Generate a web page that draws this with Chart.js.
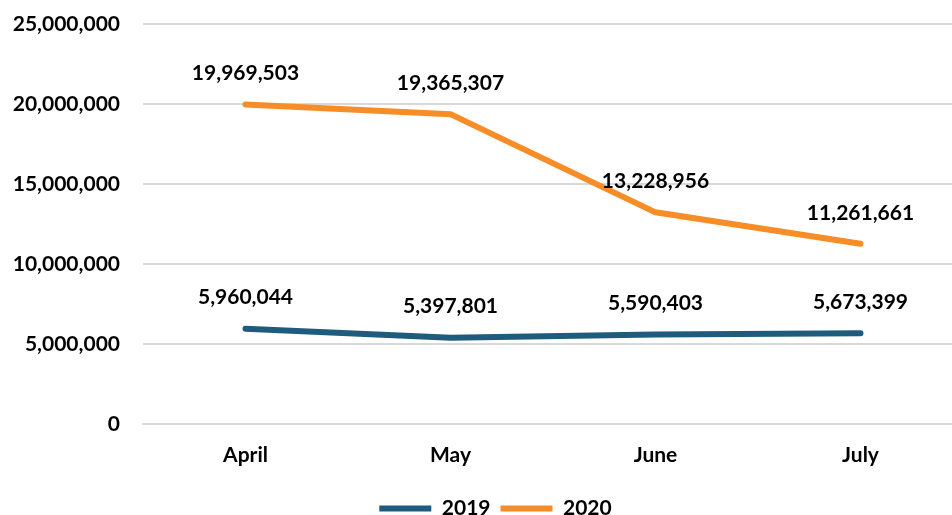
<!DOCTYPE html>
<html>
<head>
<meta charset="utf-8">
<script src="https://cdn.jsdelivr.net/npm/chart.js@4/dist/chart.umd.min.js"></script>
<style>
  html, body { margin: 0; padding: 0; background: #fff; overflow: hidden; }
  #wrap { width: 990px; height: 515px; }
</style>
</head>
<body>
<div id="wrap"><canvas id="chart"></canvas></div>
<script>
const months = ['April', 'May', 'June', 'July'];
const visits2019 = [5960044, 5397801, 5590403, 5673399];
const visits2020 = [19969503, 19365307, 13228956, 11261661];
const yTicks = [0, 5000000, 10000000, 15000000, 20000000, 25000000];

const FONT = 'Lato, "Open Sans", sans-serif';
const fmt = v => v.toLocaleString('en-US');

// value labels above each point
const pointLabels = {
  id: 'pointLabels',
  afterDatasetsDraw(chart) {
    const ctx = chart.ctx;
    ctx.save();
    ctx.font = 'bold 21px ' + FONT;
    ctx.fillStyle = '#000';
    ctx.textAlign = 'center';
    ctx.textBaseline = 'middle';
    chart.data.datasets.forEach((ds, i) => {
      chart.getDatasetMeta(i).data.forEach((pt, j) => {
        ctx.fillText(fmt(ds.data[j]), pt.x, pt.y - 31);
      });
    });
    ctx.restore();
  }
};

// nudge the legend a little to the right of the canvas centre
const legendShift = {
  id: 'legendShift',
  afterLayout(chart) {
    chart.legend.left += 8;
    chart.legend.right += 8;
  }
};

new Chart(document.getElementById('chart'), {
  type: 'line',
  data: {
    labels: months,
    datasets: [
      {
        label: '2019',
        data: visits2019,
        borderColor: '#1F5B7C',
        backgroundColor: '#1F5B7C',
        borderWidth: 6,
        borderCapStyle: 'round',
        borderJoinStyle: 'round',
        pointRadius: 0,
        tension: 0
      },
      {
        label: '2020',
        data: visits2020,
        borderColor: '#F78D27',
        backgroundColor: '#F78D27',
        borderWidth: 6,
        borderCapStyle: 'round',
        borderJoinStyle: 'round',
        pointRadius: 0,
        tension: 0
      }
    ]
  },
  options: {
    responsive: true,
    maintainAspectRatio: false,
    animation: false,
    layout: { padding: { top: 24, left: 12, right: 27, bottom: -14 } },
    plugins: {
      tooltip: { enabled: false },
      legend: {
        position: 'bottom',
        labels: {
          usePointStyle: true,
          pointStyle: 'line',
          pointStyleWidth: 52,
          padding: 10,
          color: '#000',
          font: { family: FONT, size: 21, weight: 'bold' }
        }
      }
    },
    scales: {
      x: {
        offset: true,
        afterFit(s) { s.height = 64; },
        grid: { display: false, drawTicks: false },
        border: { display: true, color: '#D9D9D9', width: 2 },
        ticks: {
          padding: 19,
          color: '#000',
          font: { family: FONT, size: 21, weight: 'bold' }
        }
      },
      y: {
        min: 0,
        max: 25000000,
        afterBuildTicks(s) { s.ticks = yTicks.map(v => ({ value: v })); },
        afterFit(s) { s.width = 131; },
        // invisible tick marks keep the labels 23px off the plot
        grid: { color: '#D9D9D9', lineWidth: 2, drawTicks: true, tickLength: 23, tickColor: 'rgba(0,0,0,0)' },
        border: { display: false },
        ticks: {
          padding: 0,
          color: '#000',
          font: { family: FONT, size: 21, weight: 'bold' },
          callback: v => fmt(v)
        }
      }
    }
  },
  plugins: [pointLabels, legendShift]
});
</script>
</body>
</html>
